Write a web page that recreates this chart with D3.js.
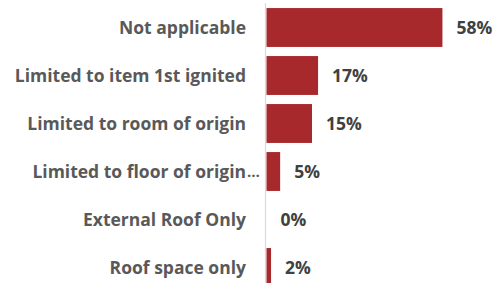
<!DOCTYPE html>
<html><head><meta charset="utf-8">
<script src="https://cdn.jsdelivr.net/npm/d3@7"></script>
<style>
html,body{margin:0;padding:0;background:#fff;overflow:hidden;}
svg{display:block;}
</style></head>
<body>
<svg id="chart" width="504" height="283"></svg>
<script>
const categories = ["Not applicable","Limited to item 1st ignited","Limited to room of origin","Limited to floor of origin\u2026","External Roof Only","Roof space only"];
const values = [58, 17, 15, 4.5, 0, 1.5];
const valueLabels = ["58%","17%","15%","5%","0%","2%"];

const svg = d3.select("#chart");
const x = d3.scaleLinear().domain([0, 60]).range([266, 448]);
const y = d3.scaleBand().domain(categories).range([3.5, 291.5]).paddingInner(0.19).paddingOuter(0.095);
const font = "'Open Sans', sans-serif";

svg.append("line")
  .attr("x1", 265.5).attr("x2", 265.5)
  .attr("y1", 3).attr("y2", 283)
  .attr("stroke", "#d9d9d9").attr("stroke-width", 1.2);

svg.selectAll("rect.bar").data(categories).enter().append("rect")
  .attr("class","bar")
  .attr("x", x(0) + 0.5)
  .attr("y", d => y(d))
  .attr("width", (d,i) => Math.max(0, x(values[i]) - x(0)))
  .attr("height", y.bandwidth())
  .attr("fill", "#a8292c");

const ell = "\u2026";
svg.selectAll("text.cat").data(categories).enter().append("text")
  .attr("class","cat")
  .attr("x", 246)
  .attr("y", d => y(d) + y.bandwidth()/2)
  .attr("dy", "0.36em")
  .attr("text-anchor", "end")
  .attr("font-family", font)
  .attr("font-weight", 700)
  .attr("font-size", 17.5)
  .attr("fill", "#595959")
  .text(d => d.endsWith(ell) ? d.slice(0, -1) : d);

svg.selectAll("text.ell").data(categories.filter(d => d.endsWith(ell))).enter().append("text")
  .attr("class","ell")
  .attr("x", 247)
  .attr("y", d => y(d) + y.bandwidth()/2)
  .attr("dy", "0.36em")
  .attr("font-family", font)
  .attr("font-weight", 700)
  .attr("font-size", 15)
  .attr("fill", "#595959")
  .text(ell);

svg.selectAll("text.val").data(categories).enter().append("text")
  .attr("class","val")
  .attr("x", (d,i) => x(values[i]) + 14.5)
  .attr("y", d => y(d) + y.bandwidth()/2)
  .attr("dy", "0.36em")
  .attr("font-family", font)
  .attr("font-weight", 700)
  .attr("font-size", 17.5)
  .attr("fill", "#404040")
  .text((d,i) => valueLabels[i]);
</script>
</body></html>
